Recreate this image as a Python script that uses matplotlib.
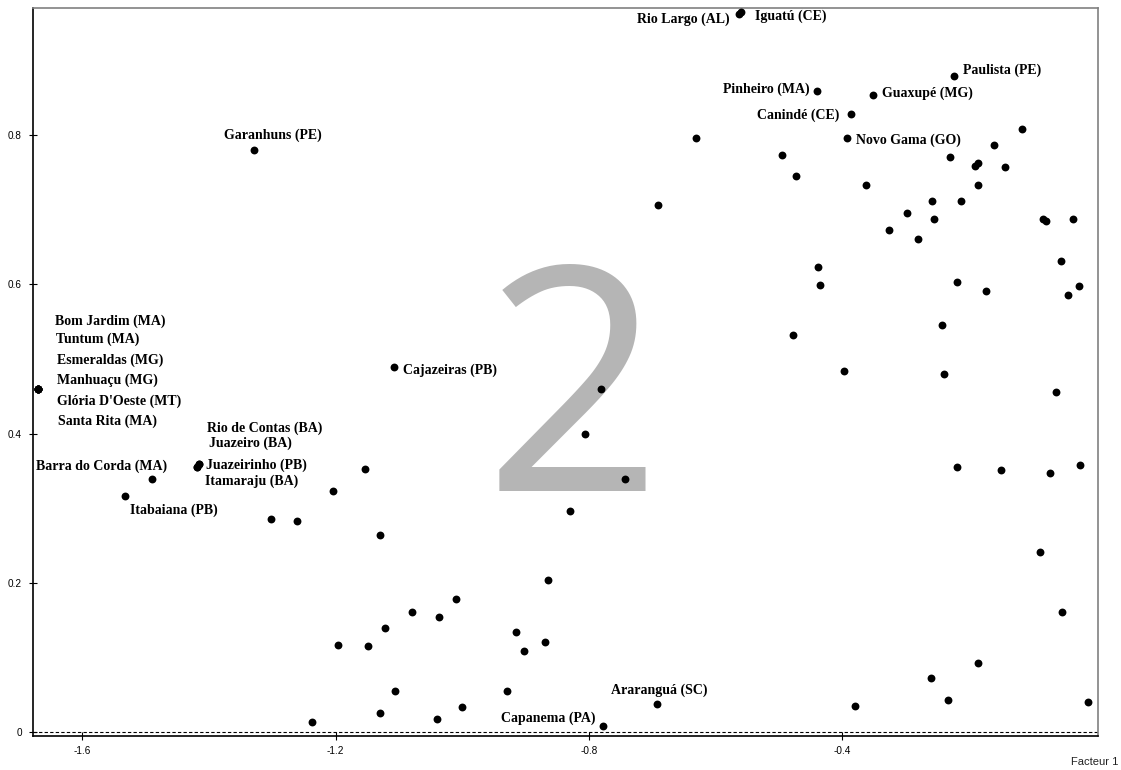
import matplotlib
matplotlib.use("Agg")
import matplotlib.pyplot as plt

# Facteur 1 / Facteur 2 coordinates of labelled municipalities
names = ["Bom Jardim (MA)", "Tuntum (MA)", "Esmeraldas (MG)", "Manhuaçu (MG)",
         "Glória D'Oeste (MT)", "Santa Rita (MA)", "Barra do Corda (MA)", "Itabaiana (PB)",
         "Rio de Contas (BA)", "Juazeiro (BA)", "Juazeirinho (PB)", "Itamaraju (BA)",
         "Garanhuns (PE)", "Cajazeiras (PB)", "Araranguá (SC)", "Capanema (PA)",
         "Rio Largo (AL)", "Iguatú (CE)", "Pinheiro (MA)", "Guaxupé (MG)",
         "Canindé (CE)", "Novo Gama (GO)", "Paulista (PE)"]
lab_x = [-1.670, -1.670, -1.670, -1.670, -1.670, -1.670, -1.490, -1.532,
         -1.419, -1.416, -1.419, -1.416, -1.329, -1.108, -0.692, -0.777,
         -0.563, -0.559, -0.439, -0.351, -0.386, -0.392, -0.223]
lab_y = [0.460, 0.460, 0.460, 0.460, 0.460, 0.460, 0.339, 0.317,
         0.356, 0.360, 0.356, 0.360, 0.780, 0.489, 0.038, 0.008,
         0.962, 0.965, 0.859, 0.854, 0.828, 0.796, 0.879]

# the other municipalities (no label)
oth_x = [-1.302, -1.261, -1.204, -1.153, -1.130, -1.196, -1.149, -1.122, -1.106, -1.130,
         -1.237, -1.079, -1.037, -1.010, -0.864, -0.915, -0.869, -0.902, -0.929, -1.000,
         -1.040, -0.830, -0.781, -0.806, -0.743, -0.691, -0.631, -0.495, -0.473, -0.438,
         -0.435, -0.477, -0.397, -0.362, -0.229, -0.190, -0.185, -0.142, -0.160, -0.116,
         -0.185, -0.258, -0.212, -0.297, -0.255, -0.326, -0.280, -0.218, -0.172, -0.242,
         -0.239, -0.082, -0.078, -0.035, -0.054, -0.026, -0.043, -0.062, -0.218, -0.149,
         -0.071, -0.024, -0.087, -0.052, -0.185, -0.259, -0.232, -0.011, -0.379]
oth_y = [0.286, 0.283, 0.323, 0.353, 0.264, 0.117, 0.116, 0.140, 0.055, 0.026,
         0.014, 0.161, 0.155, 0.179, 0.204, 0.134, 0.121, 0.109, 0.055, 0.034,
         0.018, 0.297, 0.460, 0.400, 0.339, 0.706, 0.796, 0.773, 0.745, 0.623,
         0.599, 0.532, 0.484, 0.733, 0.771, 0.758, 0.762, 0.757, 0.787, 0.808,
         0.733, 0.712, 0.712, 0.696, 0.688, 0.673, 0.661, 0.603, 0.591, 0.546,
         0.480, 0.688, 0.685, 0.688, 0.631, 0.598, 0.586, 0.456, 0.355, 0.351,
         0.347, 0.358, 0.242, 0.161, 0.093, 0.073, 0.043, 0.041, 0.035]

xticks = [-1.6, -1.2, -0.8, -0.4]
yticks = [0, 0.2, 0.4, 0.6, 0.8]

# label offsets from the dot, in pixels (dx, dy up, alignment)
offs = {
    "Bom Jardim (MA)": (17, 68, "left"), "Tuntum (MA)": (18, 50, "left"),
    "Esmeraldas (MG)": (19, 29, "left"), "Manhuaçu (MG)": (19, 9, "left"),
    "Glória D'Oeste (MT)": (19, -12, "left"), "Santa Rita (MA)": (20, -32, "left"),
    "Barra do Corda (MA)": (-50, 13, "center"), "Itabaiana (PB)": (48, -15, "center"),
    "Rio de Contas (BA)": (10, 38, "left"), "Juazeiro (BA)": (10, 20, "left"),
    "Juazeirinho (PB)": (9, 1, "left"), "Itamaraju (BA)": (6, -18, "left"),
    "Garanhuns (PE)": (19, 15, "center"), "Cajazeiras (PB)": (9, -3, "left"),
    "Araranguá (SC)": (2, 14, "center"), "Capanema (PA)": (-8, 8, "right"),
    "Rio Largo (AL)": (-9, -5, "right"), "Iguatú (CE)": (14, -4, "left"),
    "Pinheiro (MA)": (-8, 2, "right"), "Guaxupé (MG)": (9, 2, "left"),
    "Canindé (CE)": (-11, -1, "right"), "Novo Gama (GO)": (9, -2, "left"),
    "Paulista (PE)": (9, 6, "left"),
}

fig = plt.figure(figsize=(11.21, 7.70), dpi=100)
ax = fig.add_axes([33/1121, 34/770, 1065/1121, 728/770])

# big gray "2"
ax.text(0.5066, 0.337, "2", transform=ax.transAxes, fontsize=225, family="Open Sans",
        color="#b5b5b5", ha="center", va="baseline", zorder=0)

ax.axhline(0, color="black", lw=0.8, ls=(0, (3, 2)), zorder=1)

ax.scatter(oth_x, oth_y, s=32, color="black", zorder=3, linewidths=0)
ax.scatter(lab_x, lab_y, s=32, color="black", zorder=3, linewidths=0)

for n, x, y in zip(names, lab_x, lab_y):
    dx, dy, ha = offs[n]
    ax.annotate(n, (x, y), xytext=(dx, dy), textcoords="offset pixels", ha=ha, va="center",
                family="Liberation Serif", fontweight="bold", fontsize=10, color="black")

ax.set_xlim(-1.678, 0.0046)
ax.set_ylim(-0.005, 0.9703)
ax.set_xticks(xticks)
ax.set_xticklabels([str(t) for t in xticks])
ax.set_yticks(yticks)
ax.set_yticklabels(["0", "0.2", "0.4", "0.6", "0.8"])
ax.tick_params(direction="inout", length=6, width=0.8, labelsize=7.2, colors="black")
ax.tick_params(axis="x", pad=4)
ax.tick_params(axis="y", pad=5)
for lab in ax.get_xticklabels() + ax.get_yticklabels():
    lab.set_family("Liberation Sans")

ax.spines["left"].set_color("black")
ax.spines["bottom"].set_color("black")
ax.spines["top"].set_color("#808080")
ax.spines["right"].set_color("#808080")
for s in ax.spines.values():
    s.set_linewidth(1.2)

fig.text(1118/1121, 1 - 762/770, "Facteur 1", ha="right", va="center",
         family="Liberation Sans", fontsize=8, color="#222222")

fig.savefig("out.png", dpi=100)
